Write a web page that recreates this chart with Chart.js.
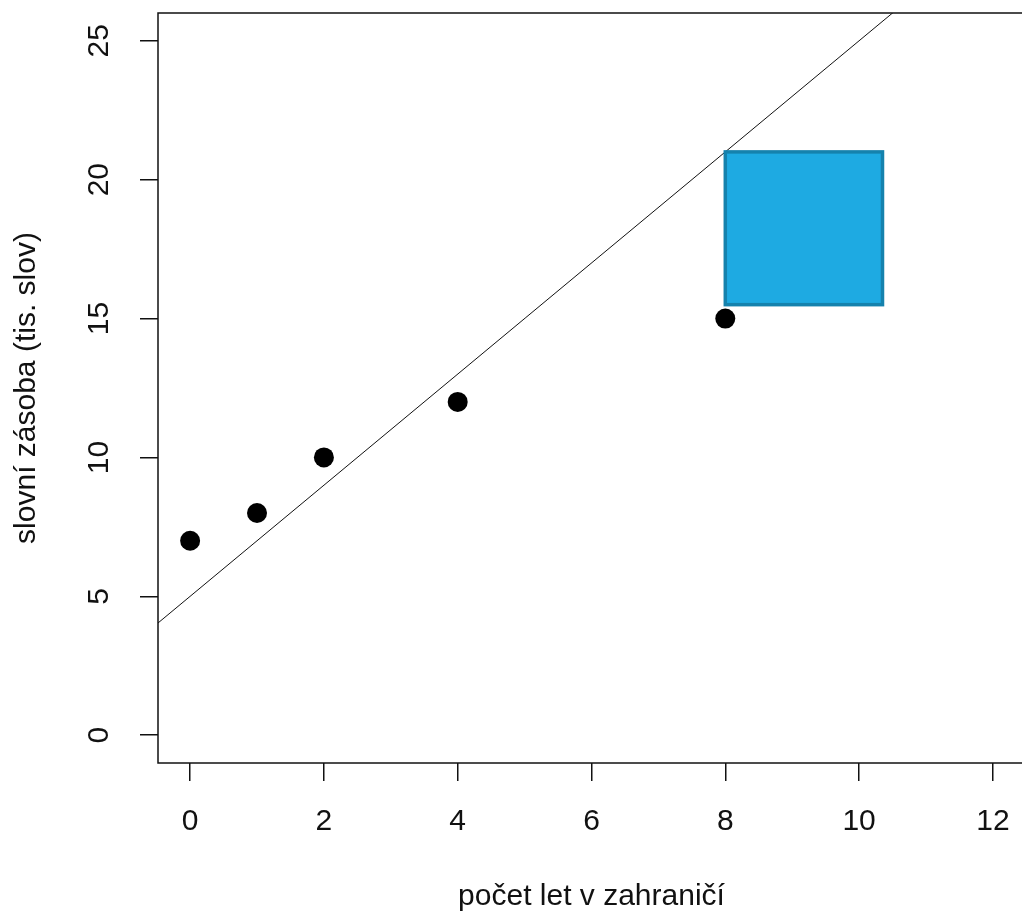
<!DOCTYPE html>
<html>
<head>
<meta charset="utf-8">
<script src="https://cdn.jsdelivr.net/npm/chart.js@4/dist/chart.umd.min.js"></script>
<style>
  html, body { margin: 0; padding: 0; background: #fff; overflow: hidden; }
  #wrap { width: 1022px; height: 913px; overflow: hidden; }
</style>
</head>
<body>
<div id="wrap"><canvas id="chart" width="1025" height="913"></canvas></div>
<script>
// data
const years = [0, 1, 2, 4, 8];
const vocab = [7, 8, 10, 12, 15];
const xTicks = [0, 2, 4, 6, 8, 10, 12];
const yTicks = [0, 5, 10, 15, 20, 25];
const xRange = [-0.48, 12.48];
const yRange = [-1, 26];
const fitCoef = [5, 2];          // abline: intercept, slope
const boxX = [8, 10.35];
const boxY = [15.5, 21];

const FONT = "'Liberation Sans', Arial, sans-serif";
Chart.defaults.font.family = FONT;
Chart.defaults.color = '#111';

const fitPoints = xRange.map(v => ({ x: v, y: fitCoef[0] + fitCoef[1] * v }));

const frame = {
    id: 'frame',
    afterDatasetsDraw(chart) {
        const { ctx, scales: { x, y } } = chart;
        const l = x.getPixelForValue(boxX[0]), r = x.getPixelForValue(boxX[1]);
        const t = y.getPixelForValue(boxY[1]), b = y.getPixelForValue(boxY[0]);
        ctx.save();
        ctx.fillStyle = '#1eaae2';
        ctx.fillRect(l, t, r - l, b - t);
        ctx.strokeStyle = '#1582ad';
        ctx.lineWidth = 3.5;
        ctx.strokeRect(l, t, r - l, b - t);
        ctx.restore();
    },
    afterDraw(chart) {
        const { ctx, chartArea: a, scales: { y } } = chart;
        ctx.save();
        // plot box
        ctx.strokeStyle = '#111';
        ctx.lineWidth = 1.5;
        ctx.strokeRect(a.left, a.top, a.right - a.left, a.bottom - a.top);
        // rotated y tick labels (R style)
        ctx.fillStyle = '#111';
        ctx.font = '30px ' + FONT;
        ctx.textAlign = 'center';
        ctx.textBaseline = 'middle';
        y.ticks.forEach(t => {
            ctx.save();
            ctx.translate(100, y.getPixelForValue(t.value));
            ctx.rotate(-Math.PI / 2);
            ctx.fillText(String(t.value), 0, 0);
            ctx.restore();
        });
        ctx.restore();
    }
};

new Chart(document.getElementById('chart'), {
    type: 'scatter',
    data: {
        datasets: [{
            data: years.map((v, i) => ({ x: v, y: vocab[i] })),
            pointRadius: 10,
            pointBackgroundColor: '#000',
            pointBorderWidth: 0,
            pointHoverRadius: 10
        }, {
            data: fitPoints,
            showLine: true,
            pointRadius: 0,
            borderColor: '#111',
            borderWidth: 1
        }]
    },
    options: {
        responsive: false,
        animation: false,
        events: [],
        layout: { autoPadding: false, padding: { top: 13, left: 0, right: 0, bottom: 0 } },
        plugins: { legend: { display: false }, tooltip: { enabled: false } },
        scales: {
            x: {
                type: 'linear',
                min: xRange[0],
                max: xRange[1],
                afterBuildTicks: s => { s.ticks = xTicks.map(v => ({ value: v })); },
                afterFit: s => { s.height = 150; s.paddingLeft = 0; s.paddingRight = 0; },
                ticks: { font: { size: 30 }, padding: 23, autoSkip: false, maxRotation: 0 },
                grid: { drawOnChartArea: false, drawTicks: true, tickLength: 18, color: '#111', lineWidth: 1.5 },
                border: { display: false },
                title: {
                    display: true,
                    text: 'počet let v zahraničí',
                    font: { size: 30, lineHeight: 1 },
                    padding: { top: 0, bottom: 1 }
                }
            },
            y: {
                type: 'linear',
                min: yRange[0],
                max: yRange[1],
                afterBuildTicks: s => { s.ticks = yTicks.map(v => ({ value: v })); },
                afterFit: s => { s.width = 158; s.paddingTop = 0; s.paddingBottom = 0; },
                ticks: { display: false },
                grid: { drawOnChartArea: false, drawTicks: true, tickLength: 18, color: '#111', lineWidth: 1.5 },
                border: { display: false },
                title: {
                    display: true,
                    text: 'slovní zásoba (tis. slov)',
                    font: { size: 30, lineHeight: 1 },
                    padding: { top: 12, bottom: 0 }
                }
            }
        }
    },
    plugins: [frame]
});
</script>
</body>
</html>
